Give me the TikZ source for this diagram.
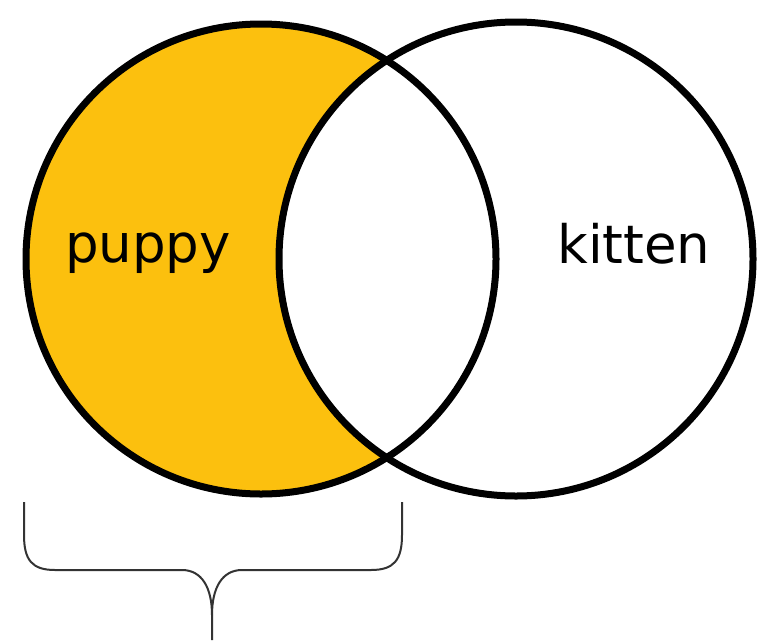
\documentclass[tikz,border=0pt]{standalone}
\usepackage{fontspec}
\setmainfont{DejaVu Sans}
\usepackage{tikz}
\usetikzlibrary{positioning}
\definecolor{pupcolor}{RGB}{252,192,14}
\tikzset{venn/.style = {draw, line width = 7pt}}
\tikzset{label/.style = {inner sep = 0, anchor = base, font = \fontsize{53}{60}\selectfont}}
\tikzset{bracket/.style = {draw = black!80, line width = 2pt}}

\begin{document}
\begin{tikzpicture}[x = 1pt, y = -1pt]
    \useasboundingbox (0, 0) rectangle (776, 640);

    \coordinate (puppyc) at (261, 259);
    \coordinate (kittenc) at (516, 259);

    \fill [pupcolor] (puppyc) circle [radius = 235];
    \begin{scope}
      \clip (kittenc) circle [radius = 237];
      \fill [white] (puppyc) circle [radius = 235];
    \end{scope}
    \draw [venn] (puppyc) circle [radius = 235];
    \draw [venn] (kittenc) circle [radius = 237];

    \node [label] (puppy) at (148, 262) {puppy};
    \node [label] (kitten) at (634, 263) {kitten};

    \coordinate (bleft) at (24, 502);
    \coordinate (bright) at (402, 502);
    \coordinate (btip) at (212, 640);
    \draw [bracket] (bleft) -- (24, 535) .. controls (24, 560) and (32, 570) .. (55, 570) -- (182, 570)
        .. controls (202, 570) and (212, 588) .. (212, 615) -- (btip);
    \draw [bracket] (bright) -- (402, 535) .. controls (402, 560) and (394, 570) .. (371, 570) -- (242, 570)
        .. controls (222, 570) and (212, 588) .. (212, 615);
  \end{tikzpicture}
\end{document}
